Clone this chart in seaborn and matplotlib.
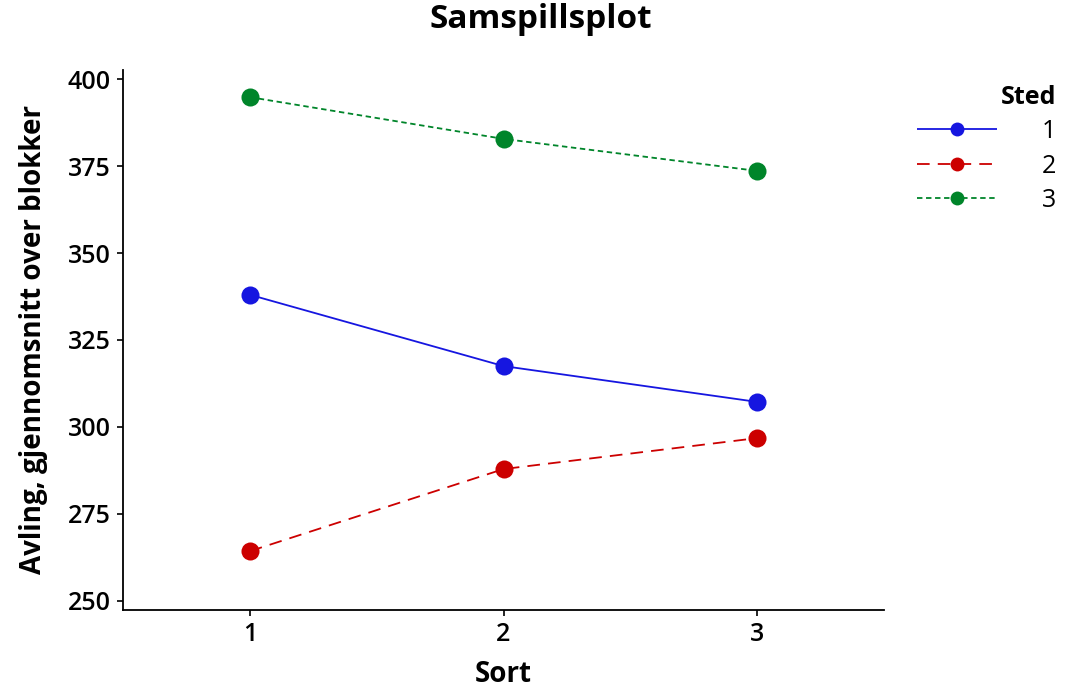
import pandas as pd
import matplotlib.pyplot as plt
import seaborn as sns

# Data
sort_levels = [1, 2, 3]
sted_1 = [338.0, 317.5, 307.2]
sted_2 = [264.3, 287.9, 296.8]
sted_3 = [394.8, 382.8, 373.6]
sted_labels = ['1', '2', '3']

df = pd.DataFrame({
    'Sort': sort_levels * 3,
    'Avling': sted_1 + sted_2 + sted_3,
    'Sted': [s for s in sted_labels for _ in sort_levels],
})

sns.set_style('ticks')
plt.rcParams['font.family'] = ['Open Sans', 'DejaVu Sans']
plt.rcParams['text.color'] = 'black'
plt.rcParams['axes.labelcolor'] = 'black'
plt.rcParams['xtick.color'] = 'black'
plt.rcParams['ytick.color'] = 'black'

colors = ['#1616e0', '#cc0000', '#00852a']
fig = plt.figure(figsize=(10.82, 6.89), dpi=100)
ax = fig.add_axes([0.1137, 0.1147, 0.7033, 0.7837])

sns.lineplot(data=df, x='Sort', y='Avling', hue='Sted', style='Sted',
             palette=colors, markers=['o', 'o', 'o'],
             dashes=[(1, 0), (7, 4.5), (3, 2)],
             markersize=13, markeredgewidth=0, linewidth=1.3, ax=ax)

ax.set_xlim(0.5, 3.5)
ax.set_ylim(247.4, 402.6)
ax.set_xticks(sort_levels)
ax.set_yticks([250, 275, 300, 325, 350, 375, 400])
ax.tick_params(labelsize=18, length=4, width=1.2, color='black', pad=5)
for lbl in ax.get_xticklabels() + ax.get_yticklabels():
    lbl.set_fontweight('semibold')
for sp in ['left', 'bottom']:
    ax.spines[sp].set_linewidth(1.3)
    ax.spines[sp].set_color('black')
sns.despine(ax=ax)

ax.set_xlabel('Sort', fontsize=20, fontweight='bold', labelpad=9)
ax.set_ylabel('Avling, gjennomsnitt over blokker', fontsize=20, fontweight='bold', labelpad=14)
fig.suptitle('Samspillsplot', fontsize=24, fontweight='bold', x=0.5, y=0.995)

h, l = ax.get_legend_handles_labels()
for hh in h:
    hh.set_markersize(10)
ax.get_legend().remove()
leg = fig.legend(h, l, title='Sted', loc='upper right', bbox_to_anchor=(0.997, 0.91),
                 frameon=False, handlelength=3.2, fontsize=18,
                 title_fontproperties={'weight': 'bold', 'size': 18},
                 labelspacing=0.38, handletextpad=1.8)
leg._legend_box.align = 'right'

fig.savefig('out.png', dpi=100)
